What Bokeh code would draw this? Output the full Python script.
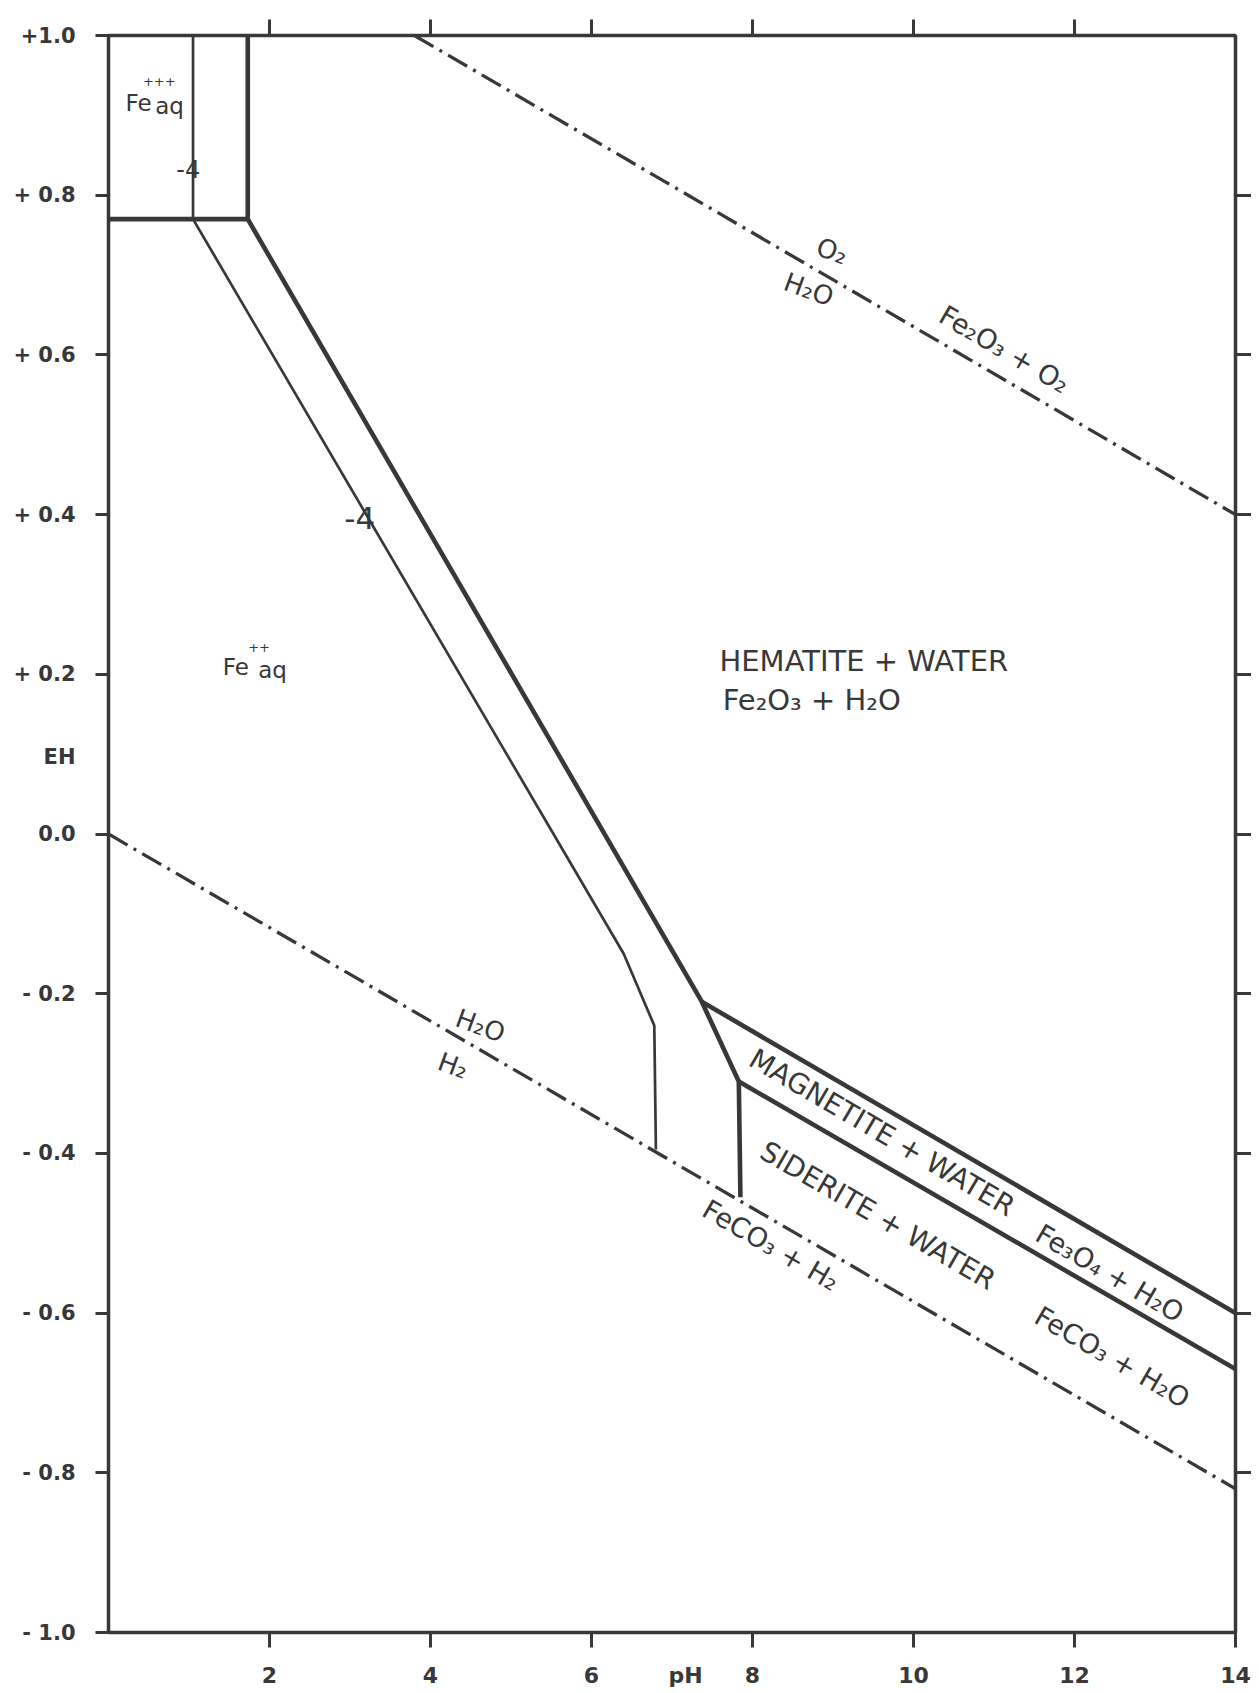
import math
from bokeh.plotting import figure
from bokeh.models import Range1d, LinearAxis, FixedTicker
from bokeh.core.properties import value
from bokeh.embed import file_html
from bokeh.resources import INLINE

# ---------------- data (pH, Eh) ----------------
eh_ticks = [1.0, 0.8, 0.6, 0.4, 0.2, 0.0, -0.2, -0.4, -0.6, -0.8, -1.0]
eh_tick_labels = ["+1.0", "+ 0.8", "+ 0.6", "+ 0.4", "+ 0.2", "0.0",
                  "- 0.2", "- 0.4", "- 0.6", "- 0.8", "- 1.0"]
eh_title_pos = 0.097
eh_title = "EH"
ph_ticks = [2, 4, 6, 8, 10, 12, 14]
ph_tick_labels = ["2", "4", "6", "8", "10", "12", "14"]
ph_title_pos = 7.17
ph_title = "pH"
top_ticks = [2, 4, 6, 8, 10, 12]
right_ticks = [0.8, 0.6, 0.4, 0.2, 0.0, -0.2, -0.4, -0.6, -0.8]

# Fe+++ / Fe++ boundary
fe3_fe2_ph = [0.0, 1.73]
fe3_fe2_eh = [0.77, 0.77]
# Fe+++ / hematite (thick) and the -4 contour (thin)
fe3_hem_ph = [1.73, 1.73]
fe3_hem_eh = [0.77, 1.0]
fe3_hem4_ph = [1.05, 1.05]
fe3_hem4_eh = [0.77, 1.0]
# Fe++ / hematite -> magnetite -> siderite (thick)
fe2_main_ph = [1.73, 7.37, 7.83, 7.85]
fe2_main_eh = [0.77, -0.21, -0.31, -0.455]
# Fe++ boundary at activity 10^-4 (thin)
fe2_m4_ph = [1.05, 6.40, 6.78, 6.80]
fe2_m4_eh = [0.77, -0.15, -0.24, -0.395]
# hematite / magnetite
hem_mag_ph = [7.37, 14.0]
hem_mag_eh = [-0.21, -0.60]
# magnetite / siderite
mag_sid_ph = [7.83, 14.0]
mag_sid_eh = [-0.31, -0.67]
# water stability limits
o2_ph = [3.8, 14.0]
o2_eh = [1.0, 0.40]
h2_ph = [0.0, 14.0]
h2_eh = [0.0, -0.82]

# ---------------- figure ----------------
W, H = 1251, 1690
ML, MR, MT, MB = 108, 16, 35, 54
INK = "#383838"

p = figure(width=W, height=H, x_range=Range1d(0, 14), y_range=Range1d(-1, 1),
           output_backend="svg", toolbar_location=None,
           min_border_left=ML, min_border_right=MR,
           min_border_top=MT, min_border_bottom=MB)
p.xaxis.visible = False
p.yaxis.visible = False
p.grid.visible = False
p.outline_line_color = INK
p.outline_line_width = 3.5
p.background_fill_color = "white"
p.border_fill_color = "white"

px_per_ph = (W - ML - MR) / 14.0
px_per_eh = (H - MT - MB) / 2.0

def screen_angle(xs, ys):
    slope = (ys[-1] - ys[0]) / (xs[-1] - xs[0])
    return math.atan(slope * px_per_eh / px_per_ph)

def style_ticks(ax, out):
    ax.axis_line_color = None
    ax.major_tick_line_color = INK
    ax.major_tick_line_width = 3
    ax.major_tick_in = 0
    ax.major_tick_out = out
    ax.minor_tick_line_color = None

# left axis: labelled ticks drawn as minor ticks, plus the "EH" title as a tick label
left = LinearAxis(ticker=FixedTicker(ticks=eh_ticks + [eh_title_pos], minor_ticks=eh_ticks))
overrides = dict(zip(eh_ticks, eh_tick_labels))
overrides[eh_title_pos] = eh_title
left.major_label_overrides = overrides
left.axis_line_color = None
left.major_tick_line_color = None
left.major_tick_in = 0
left.major_tick_out = 13
left.minor_tick_line_color = INK
left.minor_tick_line_width = 3
left.minor_tick_in = 0
left.minor_tick_out = 13
left.major_label_standoff = 20
left.major_label_text_font = "DejaVu Sans"
left.major_label_text_font_style = "bold"
left.major_label_text_font_size = "21px"
left.major_label_text_color = INK
p.add_layout(left, "left")

bottom = LinearAxis(ticker=FixedTicker(ticks=ph_ticks + [ph_title_pos], minor_ticks=ph_ticks))
boverrides = dict(zip(ph_ticks, ph_tick_labels))
boverrides[ph_title_pos] = ph_title
bottom.major_label_overrides = boverrides
bottom.axis_line_color = None
bottom.major_tick_line_color = None
bottom.major_tick_in = 0
bottom.major_tick_out = 15
bottom.minor_tick_line_color = INK
bottom.minor_tick_line_width = 3
bottom.minor_tick_in = 0
bottom.minor_tick_out = 15
bottom.major_label_standoff = 15
bottom.major_label_text_font = "DejaVu Sans"
bottom.major_label_text_font_style = "bold"
bottom.major_label_text_font_size = "22px"
bottom.major_label_text_color = INK
p.add_layout(bottom, "below")

top = LinearAxis(ticker=FixedTicker(ticks=top_ticks))
style_ticks(top, 16)
top.major_label_text_color = None
top.major_label_text_font_size = "1px"
p.add_layout(top, "above")

right = LinearAxis(ticker=FixedTicker(ticks=right_ticks))
style_ticks(right, 16)
right.major_label_text_color = None
right.major_label_text_font_size = "1px"
p.add_layout(right, "right")

# boundaries
THICK, THIN = 4.6, 2.7
p.line(fe3_fe2_ph, fe3_fe2_eh, line_color=INK, line_width=THICK)
p.line(fe3_hem_ph, fe3_hem_eh, line_color=INK, line_width=THICK)
p.line(fe3_hem4_ph, fe3_hem4_eh, line_color=INK, line_width=THIN)
p.line(fe2_main_ph, fe2_main_eh, line_color=INK, line_width=THICK, line_join="miter")
p.line(fe2_m4_ph, fe2_m4_eh, line_color=INK, line_width=THIN)
p.line(hem_mag_ph, hem_mag_eh, line_color=INK, line_width=THICK)
p.line(mag_sid_ph, mag_sid_eh, line_color=INK, line_width=THICK)
p.line(o2_ph, o2_eh, line_color=INK, line_width=3.3, line_dash="22 7 3 7")
p.line(h2_ph, h2_eh, line_color=INK, line_width=3.3, line_dash="22 7 3 7")

FONT = value("DejaVu Sans")

def txt(x, y, s, size, angle=0.0, align="center"):
    p.text(x=[x], y=[y], text=[s], angle=angle, text_font=FONT,
           text_font_size=size, text_color=INK, text_align=align,
           text_baseline="middle")

a_o2 = screen_angle(o2_ph, o2_eh)
a_h2 = screen_angle(h2_ph, h2_eh)
a_mag = screen_angle(hem_mag_ph, hem_mag_eh)
a_sid = screen_angle(mag_sid_ph, mag_sid_eh)
small = math.radians(-20)

# Fe+++ aq
txt(0.21, 0.915, "Fe", "23px", align="left")
txt(0.58, 0.912, "aq", "23px", align="left")
txt(0.63, 0.943, "+++", "13px")
txt(0.99, 0.833, "-4", "24px")
# -4 contour label
txt(3.12, 0.396, "-4", "31px")
# Fe++ aq
txt(1.42, 0.209, "Fe", "23px", align="left")
txt(1.86, 0.206, "aq", "23px", align="left")
txt(1.87, 0.234, "++", "13px")
# hematite
txt(7.59, 0.217, "HEMATITE + WATER", "29px", align="left")
txt(7.63, 0.168, "Fe\u2082O\u2083 + H\u2082O", "29px", align="left")
# O2 / H2O
txt(8.99, 0.730, "O\u2082", "26px", angle=small)
txt(8.70, 0.682, "H\u2082O", "26px", angle=small)
txt(11.13, 0.607, "Fe\u2082O\u2083 + O\u2082", "27px", angle=a_o2)
# H2O / H2
txt(4.62, -0.240, "H\u2082O", "26px", angle=small)
txt(4.28, -0.290, "H\u2082", "26px", angle=small)
# magnetite, siderite
txt(9.61, -0.374, "MAGNETITE + WATER", "28px", angle=a_mag)
txt(12.44, -0.550, "Fe\u2083O\u2084 + H\u2082O", "27px", angle=a_mag)
txt(9.56, -0.478, "SIDERITE + WATER", "28px", angle=a_sid)
txt(12.47, -0.655, "FeCO\u2083 + H\u2082O", "27px", angle=a_sid)
txt(8.23, -0.515, "FeCO\u2083 + H\u2082", "27px", angle=a_h2)

open("out.html", "w").write(file_html(p, INLINE))
